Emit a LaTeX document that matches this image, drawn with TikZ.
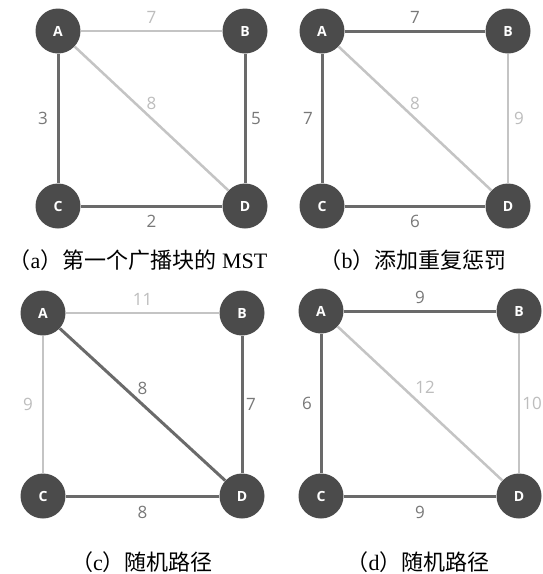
\documentclass[tikz,border=0pt]{standalone}
\usepackage{fontspec}
\setmainfont{Liberation Serif}
\setsansfont{Open Sans}
\newfontfamily\cjk{Noto Sans CJK SC}
\definecolor{nodefill}{HTML}{4B4B4B}
\definecolor{darkedge}{HTML}{6A6A6A}
\definecolor{lightedge}{HTML}{C4C4C4}
\definecolor{darklbl}{HTML}{787878}
\definecolor{lightlbl}{HTML}{BDBDBD}
\tikzset{
  vtx/.style={circle, fill=nodefill, minimum size=45pt, inner sep=0pt,
    text=white, font=\sffamily\bfseries\fontsize{14}{14}\selectfont},
  dk/.style={draw=darkedge, line width=3pt},
  lt/.style={draw=lightedge, line width=2.5pt},
  dl/.style={text=darklbl, font=\sffamily\fontsize{17}{17}\selectfont, inner sep=0pt},
  ll/.style={text=lightlbl, font=\sffamily\fontsize{17}{17}\selectfont, inner sep=0pt},
  captxt/.style={font=\fontsize{22}{22}\selectfont, text=black, inner sep=0pt},
}
\begin{document}
\begin{tikzpicture}[x=1pt,y=-1pt]
\useasboundingbox (0,0) rectangle (543,574);
\fill[white] (0,0) rectangle (543,574);
% ---------- (a)
\node[vtx] (aA) at (58,31) {A};
\node[vtx] (aB) at (245,31) {B};
\node[vtx] (aC) at (58,206) {C};
\node[vtx] (aD) at (245,206) {D};
% ---------- (b)
\node[vtx] (bA) at (322,31) {A};
\node[vtx] (bB) at (508,31) {B};
\node[vtx] (bC) at (322,206) {C};
\node[vtx] (bD) at (508,206) {D};
% ---------- (c)
\node[vtx] (cA) at (43,313) {A};
\node[vtx] (cB) at (242,313) {B};
\node[vtx] (cC) at (43,496) {C};
\node[vtx] (cD) at (242,496) {D};
% ---------- (d)
\node[vtx] (dA) at (321,311) {A};
\node[vtx] (dB) at (519,311) {B};
\node[vtx] (dC) at (321,496) {C};
\node[vtx] (dD) at (519,496) {D};

% edges (a)
\path[lt] (aA) -- node[ll, midway, yshift=14pt] {7} (aB);
\path[lt] (aA) -- node[ll, midway, yshift=15pt] {8} (aD);
\path[dk] (aA) -- node[dl, midway, xshift=-15pt] {3} (aC);
\path[dk] (aB) -- node[dl, midway, xshift=11pt] {5} (aD);
\path[dk] (aC) -- node[dl, midway, yshift=-15pt] {2} (aD);
% edges (b)
\path[dk] (bA) -- node[dl, midway, yshift=14pt] {7} (bB);
\path[lt] (bA) -- node[ll, midway, yshift=15pt] {8} (bD);
\path[dk] (bA) -- node[dl, midway, xshift=-14pt] {7} (bC);
\path[lt] (bB) -- node[ll, midway, xshift=11pt] {9} (bD);
\path[dk] (bC) -- node[dl, midway, yshift=-15pt] {6} (bD);
% edges (c)
\path[lt] (cA) -- node[ll, midway, yshift=14pt] {11} (cB);
\path[dk] (cA) -- node[dl, midway, yshift=16pt] {8} (cD);
\path[lt] (cA) -- node[ll, midway, xshift=-15pt] {9} (cC);
\path[dk] (cB) -- node[dl, midway, xshift=9pt] {7} (cD);
\path[dk] (cC) -- node[dl, midway, yshift=-16pt] {8} (cD);
% edges (d)
\path[dk] (dA) -- node[dl, midway, yshift=14pt] {9} (dB);
\path[lt] (dA) -- node[ll, midway, yshift=16pt, xshift=5pt] {12} (dD);
\path[dk] (dA) -- node[dl, midway, xshift=-14pt] {6} (dC);
\path[lt] (dB) -- node[ll, midway, xshift=13pt] {10} (dD);
\path[dk] (dC) -- node[dl, midway, yshift=-16pt] {9} (dD);

% captions
\node[captxt] (capa) at (138,260) {{\cjk （}a{\cjk ）第一个广播块的} MST};
\node[captxt] (capb) at (413,260) {{\cjk （}b{\cjk ）添加重复惩罚}};
\node[captxt] (capc) at (142,562) {{\cjk （}c{\cjk ）随机路径}};
\node[captxt] (capd) at (418,562) {{\cjk （}d{\cjk ）随机路径}};
\end{tikzpicture}
\end{document}
